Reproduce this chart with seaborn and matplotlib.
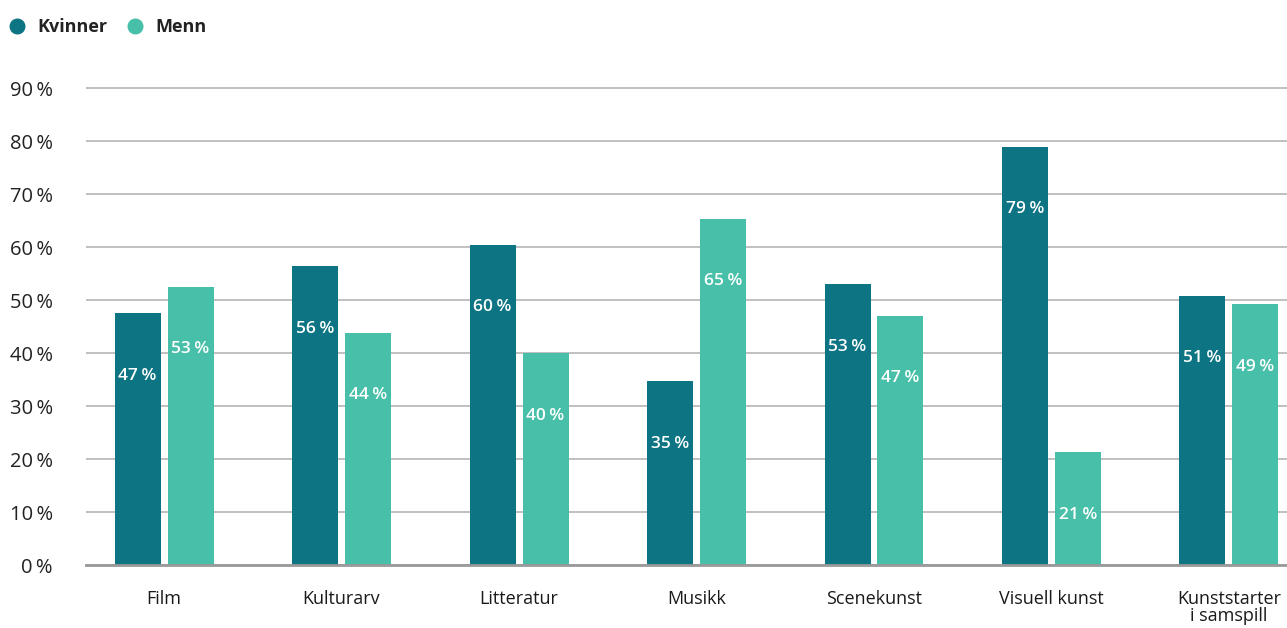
import matplotlib
matplotlib.use("Agg")
import matplotlib.pyplot as plt
from matplotlib.lines import Line2D
import pandas as pd
import seaborn as sns

categories = ["Film", "Kulturarv", "Litteratur", "Musikk", "Scenekunst",
              "Visuell kunst", "Kunststarter\ni samspill"]
kvinner = [47.5, 56.4, 60.4, 34.7, 53.0, 78.9, 50.8]
menn = [52.5, 43.8, 40.0, 65.3, 47.0, 21.3, 49.2]
kvinner_labels = ["47\u2009%", "56\u2009%", "60\u2009%", "35\u2009%", "53\u2009%", "79\u2009%", "51\u2009%"]
menn_labels = ["53\u2009%", "44\u2009%", "40\u2009%", "65\u2009%", "47\u2009%", "21\u2009%", "49\u2009%"]
yticks = [0, 10, 20, 30, 40, 50, 60, 70, 80, 90]

df = pd.DataFrame({
    "kategori": categories * 2,
    "kjonn": ["Kvinner"] * len(categories) + ["Menn"] * len(categories),
    "andel": kvinner + menn,
})

colors = {"Kvinner": "#0c7482", "Menn": "#48bfa8"}

sns.set_theme(style="white")
plt.rcParams["font.family"] = ["Open Sans", "DejaVu Sans"]

fig = plt.figure(figsize=(12.87, 6.28), dpi=100)
ax = fig.add_axes([0.0668, 0.1003, 0.9332, 0.768])

sns.barplot(data=df, x="kategori", y="andel", hue="kjonn", palette=colors,
            width=0.597, gap=0.132, saturation=1, linewidth=0, legend=False,
            ax=ax, zorder=3)

# labels inside bars
for container, labels in zip(ax.containers, [kvinner_labels, menn_labels]):
    for bar, lab in zip(container, labels):
        x = bar.get_x() + bar.get_width() / 2
        y = bar.get_height() - 11.8
        ax.text(x, y, lab, ha="center", va="center", color="white",
                fontsize=12.5, fontweight="semibold", zorder=4)

ax.set_ylim(0, 91)
ax.set_xlim(-0.44, 6.327)
ax.set_yticks(yticks)
ax.set_yticklabels([f"{v}\u2009%" for v in yticks], fontsize=14.5, color="#222222")
ax.yaxis.grid(True, color="#b5b5b5", linewidth=1.2, zorder=0)
ax.tick_params(axis="y", length=0, pad=24)
ax.tick_params(axis="x", length=0, pad=18)
for t in ax.get_xticklabels():
    t.set_fontsize(13)
    t.set_color("#1a1a1a")
    t.set_linespacing(0.95)
ax.set_xlabel("")
ax.set_ylabel("")
for s in ["top", "right", "left"]:
    ax.spines[s].set_visible(False)
ax.spines["bottom"].set_color("#999999")
ax.spines["bottom"].set_linewidth(2)
ax.spines["bottom"].set_zorder(5)

handles = [Line2D([0], [0], marker="o", linestyle="", markersize=10.5,
                  markerfacecolor=colors[k], markeredgecolor=colors[k], label=k)
           for k in ["Kvinner", "Menn"]]
leg = fig.legend(handles=handles, loc="center left",
                 bbox_to_anchor=(8 / 1287, 1 - 27 / 628),
                 ncol=2, frameon=False, handlelength=1.0, handletextpad=0.65,
                 columnspacing=1.0, borderpad=0, borderaxespad=0,
                 prop={"size": 13, "weight": "bold"})
for t in leg.get_texts():
    t.set_color("#222222")

fig.savefig("out.png", dpi=100)
